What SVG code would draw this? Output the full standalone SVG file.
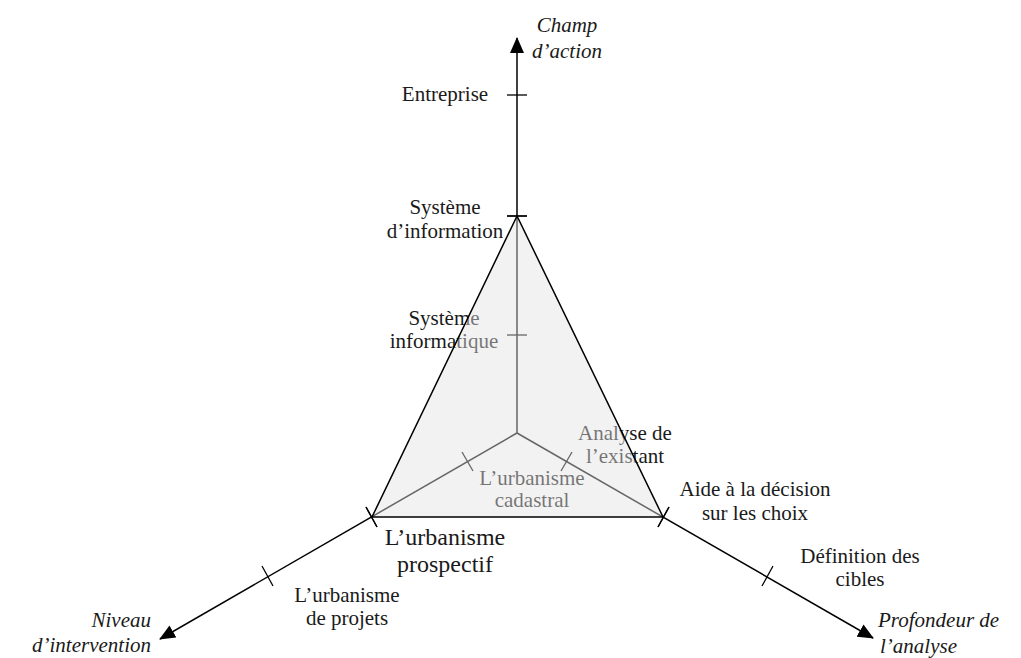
<svg xmlns="http://www.w3.org/2000/svg" width="1021" height="658" viewBox="0 0 1021 658">
<style>
.ax{stroke:#000;stroke-width:1.5;fill:none}
.tk{stroke:#000;stroke-width:1.3;fill:none}
.lb{font-family:"Liberation Serif","Times New Roman",serif;font-size:21px;fill:#1a1a1a;text-anchor:middle}
.it{font-family:"Liberation Serif","Times New Roman",serif;font-size:21px;font-style:italic;fill:#1a1a1a}
.big{font-size:24px}
.tri{fill:#e3e3e3;fill-opacity:0.45;stroke:none}
.tris{fill:none;stroke:#000;stroke-width:1.5;stroke-linejoin:miter}
</style>
<defs>
<marker id="arr" viewBox="0 0 16 14" refX="15" refY="7" markerWidth="16" markerHeight="14" markerUnits="userSpaceOnUse" orient="auto">
<path d="M0,0 L16,7 L0,14 Z" fill="#000"/>
</marker>
</defs>
<rect width="1021" height="658" fill="#fff"/>
<g id="connectors">
<line class="ax" x1="517" y1="433" x2="517" y2="38" marker-end="url(#arr)"/>
<line class="ax" x1="517" y1="433" x2="160" y2="639" marker-end="url(#arr)"/>
<line class="ax" x1="517" y1="433" x2="873" y2="638" marker-end="url(#arr)"/>
<line class="tk" x1="507" y1="95" x2="527" y2="95"/>
<line class="tk" x1="507" y1="216" x2="527" y2="216"/>
<line class="tk" x1="507" y1="335" x2="527" y2="335"/>
<line class="tk" x1="462" y1="452" x2="473" y2="471"/>
<line class="tk" x1="366" y1="507" x2="377" y2="527"/>
<line class="tk" x1="262" y1="566" x2="273" y2="586"/>
<line class="tk" x1="572" y1="452" x2="561" y2="471"/>
<line class="tk" x1="669" y1="507" x2="658" y2="527"/>
<line class="tk" x1="773" y1="566" x2="762" y2="586"/>
</g>
<g id="labels-axes">
<g id="n-champ"><text class="it" x="567" y="32" text-anchor="middle">Champ</text><text class="it" x="567" y="58" text-anchor="middle">d’action</text></g>
<g id="n-niveau"><text class="it" x="151" y="627" text-anchor="end">Niveau</text><text class="it" x="151" y="652" text-anchor="end">d’intervention</text></g>
<g id="n-profondeur"><text class="it" x="878" y="627">Profondeur de</text><text class="it" x="880" y="653">l’analyse</text></g>
</g>
<g id="n-entreprise"><text class="lb" x="445" y="101">Entreprise</text></g>
<g id="n-si"><text class="lb" x="445" y="214">Système</text><text class="lb" x="445" y="238">d’information</text></g>
<g id="n-sinfo"><text class="lb" x="444" y="325">Système</text><text class="lb" x="444" y="348">informatique</text></g>
<g id="n-analyse"><text class="lb" x="625" y="440">Analyse de</text><text class="lb" x="625" y="463">l’existant</text></g>
<g id="n-cadastral"><text class="lb" x="532" y="485">L’urbanisme</text><text class="lb" x="532" y="507">cadastral</text></g>
<g id="n-aide"><text class="lb" x="755" y="496">Aide à la décision</text><text class="lb" x="755" y="520">sur les choix</text></g>
<g id="n-definition"><text class="lb" x="860" y="563">Définition des</text><text class="lb" x="860" y="586">cibles</text></g>
<g id="n-projets"><text class="lb" x="347" y="602">L’urbanisme</text><text class="lb" x="347" y="625">de projets</text></g>
<g id="n-triangle">
<polygon class="tri" points="517,216 372,517 663,517"/>
<polygon class="tris" points="517,216 372,517 663,517"/>
<line class="tk" x1="366" y1="507" x2="377" y2="527"/>
<line class="tk" x1="669" y1="507" x2="658" y2="527"/>
<line class="tk" x1="507" y1="216" x2="527" y2="216"/>
</g>
<g id="n-prospectif"><text class="lb big" x="445" y="545">L’urbanisme</text><text class="lb big" x="445" y="572">prospectif</text></g>
</svg>
